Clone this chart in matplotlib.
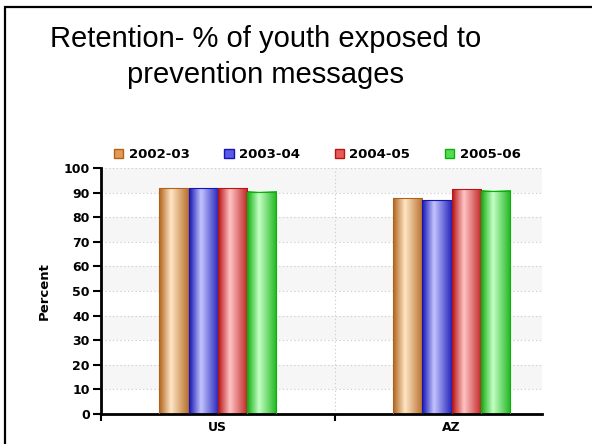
import numpy as np
import matplotlib.pyplot as plt
from matplotlib.patches import Patch, Rectangle
from matplotlib.colors import to_rgb

categories = ['US', 'AZ']
series = ['2002-03', '2003-04', '2004-05', '2005-06']
vals_0203 = [91.7, 87.8]
vals_0304 = [91.8, 86.8]
vals_0405 = [91.7, 91.3]
vals_0506 = [90.3, 90.8]
all_vals = [vals_0203, vals_0304, vals_0405, vals_0506]

dark = ['#b0621c', '#1414b4', '#b81414', '#0eae0e']
light = ['#ffe6c6', '#c4c4ff', '#ffc4c4', '#c4ffc4']
mid = ['#e39a55', '#5a5ae6', '#e65a5a', '#52dc52']


def gradient(c_dark, c_light, n=64):
    d = np.array(to_rgb(c_dark))
    l = np.array(to_rgb(c_light))
    t = np.linspace(0, 1, n)
    w = np.interp(t, [0, 0.4, 1.0], [0, 1, 0.1])
    return (d[None, :] * (1 - w[:, None]) + l[None, :] * w[:, None])[None, :, :]


fig = plt.figure(figsize=(5.92, 4.44), dpi=100)
ax = fig.add_axes([101 / 592, 30 / 444, 441 / 592, 246 / 444])

x = np.arange(len(categories))
width = 0.125
offsets = (np.arange(len(series)) - 1.5) * width

# alternating light bands
for lo in range(10, 100, 20):
    ax.axhspan(lo, lo + 10, color='#f6f6f6', zorder=0, lw=0)

for i, vals in enumerate(all_vals):
    bars = ax.bar(x + offsets[i], vals, width, color='none',
                  edgecolor=dark[i], lw=0.8, zorder=3)
    img = gradient(dark[i], light[i])
    for b in bars:
        x0, y0 = b.get_x(), b.get_y()
        ax.imshow(img, extent=[x0, x0 + b.get_width(), y0, y0 + b.get_height()],
                  aspect='auto', zorder=2, interpolation='bilinear')

ax.set_xlim(-0.498, 1.387)
ax.set_ylim(0, 100)
ax.set_yticks(np.arange(0, 101, 10))
ax.yaxis.grid(True, linestyle=(0, (1.2, 2.2)), color='#cfcfcf', lw=0.8)
ax.set_xticks([-0.5, 0.5])
ax.set_xticklabels([])
ax.set_xticks(x, minor=True)
ax.set_xticklabels(categories, minor=True, fontweight='bold', fontsize=9)
ax.tick_params(axis='x', which='minor', length=0, pad=5)
ax.tick_params(axis='x', which='major', length=5, width=1.5, direction='out')
ax.axvline(0.5, linestyle=(0, (1.2, 2.2)), color='#cfcfcf', lw=0.8, zorder=1)
ax.tick_params(axis='y', length=6, width=1.5, labelsize=9, pad=2)
for lab in ax.get_yticklabels():
    lab.set_fontweight('bold')
ax.set_axisbelow(True)

for s in ['top', 'right']:
    ax.spines[s].set_visible(False)
for s in ['left', 'bottom']:
    ax.spines[s].set_linewidth(2)
ax.set_ylabel('Percent', fontweight='bold', fontsize=9.5, labelpad=9)

handles = [Patch(facecolor=mid[i], edgecolor=dark[i], label=series[i]) for i in range(4)]
fig.legend(handles=handles, loc='center', bbox_to_anchor=(0.536, 1 - 155 / 444),
           ncol=4, frameon=False, handlelength=0.7, handleheight=0.7,
           handletextpad=0.4, columnspacing=2.65,
           prop={'weight': 'bold', 'size': 9.5})

fig.text(0.448, 1 - 47 / 444, 'Retention- % of youth exposed to', ha='center',
         va='baseline', fontsize=21, family='Liberation Sans')
fig.text(0.448, 1 - 83 / 444, 'prevention messages', ha='center',
         va='baseline', fontsize=21, family='Liberation Sans')

fig.patches.append(Rectangle((4.5 / 592, -0.1), 1.2, 1.1 - 7.5 / 444,
                             transform=fig.transFigure, fill=False,
                             edgecolor='black', lw=1.6))

fig.savefig('out.png', dpi=100)
